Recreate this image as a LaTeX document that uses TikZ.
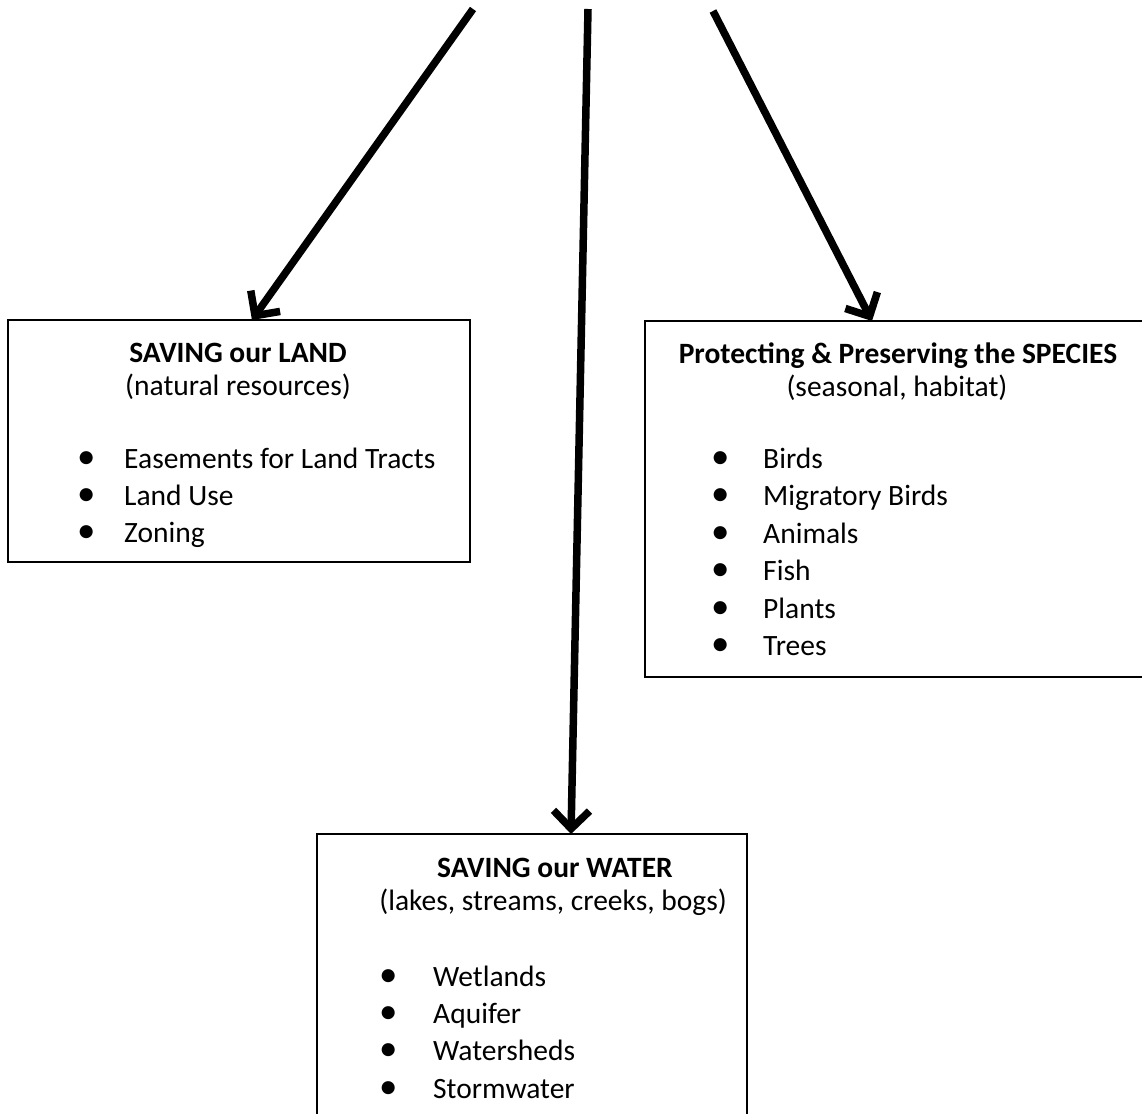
\documentclass[tikz,border=0pt]{standalone}
\usepackage{fontspec}
\setmainfont{Carlito}
\usetikzlibrary{arrows.meta,calc}
\tikzset{
  box/.style={draw, line width=2.8pt, rectangle, inner sep=0pt, outer sep=0pt, anchor=north west},
  conn/.style={line width=7.5pt, -{Straight Barb[length=18pt,width=36pt]}},
  titletxt/.style={font=\fontsize{29.5}{37.4}\selectfont\bfseries, anchor=base, inner sep=0pt},
  subtxt/.style={font=\fontsize{29.5}{37.4}\selectfont, anchor=base, inner sep=0pt},
  itemtxt/.style={font=\fontsize{29.5}{37.4}\selectfont, anchor=base west, inner sep=0pt},
}
\newcommand\blt[1]{\makebox[0pt][c]{\scalebox{1.25}{•}}\hspace{#1pt}}
\begin{document}
\begin{tikzpicture}[x=1pt,y=-1pt]
\useasboundingbox (0,0) rectangle (1142,1113);
\clip (0,0) rectangle (1142,1113);
% boxes
\node[box, minimum width=462pt, minimum height=242pt] (land) at (8,320) {};
\node[box, minimum width=505pt, minimum height=356pt] (species) at (645,321) {};
\node[box, minimum width=430pt, minimum height=290pt] (water) at (317,834) {};
% arrow starts
\coordinate (s1) at (473,9);
\coordinate (s2) at (588,9);
\coordinate (s3) at (713,11);
\draw[conn] (s1) -- ($(land.north west)!0.528!(land.north east)$);
\draw[conn] (s2) -- ($(water.north west)!0.5907!(water.north east)$);
\draw[conn] (s3) -- ($(species.north west)!0.4495!(species.north east)$);
% land text
\node[titletxt] (landT) at (238,362) {SAVING our LAND};
\node[subtxt] (landS) at (238,395) {(natural resources)};
\node[itemtxt] (landL) at (86,468) {\begin{tabular}[t]{@{}l@{}}
\blt{38}Easements for Land Tracts\\
\blt{38}Land Use\\
\blt{38}Zoning
\end{tabular}};
% species text
\node[titletxt] (spT) at (898,363) {Protecting \& Preserving the SPECIES};
\node[subtxt] (spS) at (897,396) {(seasonal, habitat)};
\node[itemtxt] (spL) at (720,468.5) {\begin{tabular}[t]{@{}l@{}}
\blt{43}Birds\\
\blt{43}Migratory Birds\\
\blt{43}Animals\\
\blt{43}Fish\\
\blt{43}Plants\\
\blt{43}Trees
\end{tabular}};
% water text
\node[titletxt] (wT) at (555,877) {SAVING our WATER};
\node[subtxt] (wS) at (553,910) {(lakes, streams, creeks, bogs)};
\node[itemtxt] (wL) at (388,986) {\begin{tabular}[t]{@{}l@{}}
\blt{45}Wetlands\\
\blt{45}Aquifer\\
\blt{45}Watersheds\\
\blt{45}Stormwater
\end{tabular}};
\end{tikzpicture}
\end{document}
